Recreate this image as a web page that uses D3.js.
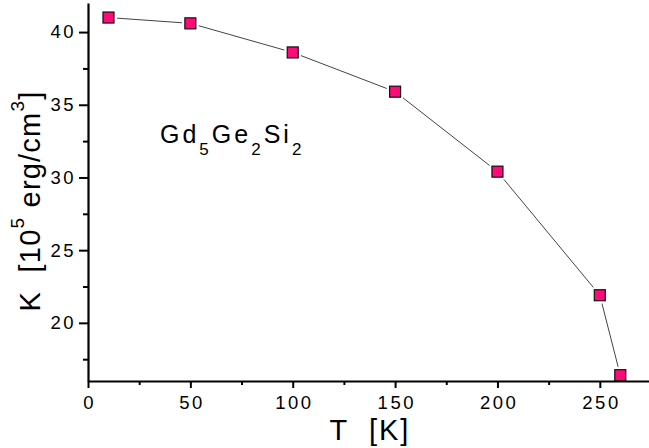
<!DOCTYPE html>
<html>
<head>
<meta charset="utf-8">
<script src="https://cdn.jsdelivr.net/npm/d3@7"></script>
<style>
  body { margin: 0; background: white; }
  svg text { font-family: "Liberation Sans", Arial, sans-serif; fill: #000; }
</style>
</head>
<body>
<script>
// data
var temps = [10, 50, 100, 150, 200, 250, 260];
var anis = [41.0, 40.6, 38.6, 35.9, 30.4, 21.9, 16.4];
var xTicks = [0, 50, 100, 150, 200, 250];
var xMinor = [25, 75, 125, 175, 225, 275];
var yTicks = [20, 25, 30, 35, 40];
var yMinor = [17.5, 22.5, 27.5, 32.5, 37.5];

var width = 649, height = 448;

var svg = d3.select("body").append("svg")
  .attr("width", width)
  .attr("height", height);

var x = d3.scaleLinear().domain([0, 275]).range([88, 651]);
var y = d3.scaleLinear().domain([16, 42]).range([381, 3]);

// axes, Origin style: thick line, outward ticks
var xAxis = svg.append("g")
  .attr("transform", "translate(0," + y(16) + ")")
  .call(d3.axisBottom(x).tickValues(xTicks).tickSize(7).tickPadding(8).tickSizeOuter(0));
xAxis.selectAll("text")
  .style("font-size", "18.5px")
  .style("letter-spacing", "2.5px")
  .attr("dx", 1.2);
svg.append("g")
  .attr("transform", "translate(0," + y(16) + ")")
  .call(d3.axisBottom(x).tickValues(xMinor).tickSize(4).tickFormat("").tickSizeOuter(0))
  .select(".domain").remove();

var yAxis = svg.append("g")
  .attr("transform", "translate(" + x(0) + ",0)")
  .call(d3.axisLeft(y).tickValues(yTicks).tickSize(9).tickPadding(4).tickSizeOuter(0));
yAxis.selectAll("text")
  .style("font-size", "18.5px")
  .style("letter-spacing", "2.5px")
  .attr("dx", 1);
svg.append("g")
  .attr("transform", "translate(" + x(0) + ",0)")
  .call(d3.axisLeft(y).tickValues(yMinor).tickSize(5).tickFormat("").tickSizeOuter(0))
  .select(".domain").remove();

svg.selectAll(".domain").attr("stroke", "#000").attr("stroke-width", 2.2);
svg.selectAll(".tick line").attr("stroke", "#000").attr("stroke-width", 2);

// connecting line with small gaps at markers
var pts = temps.map(function(t, i){ return [x(t), y(anis[i])]; });
var half = 5.5, gap = 3;
var segs = [];
for (var i = 0; i < pts.length - 1; i++) {
  var a = pts[i], b = pts[i + 1];
  var dx = b[0] - a[0], dy = b[1] - a[1];
  var len = Math.sqrt(dx * dx + dy * dy);
  // distance from centre to square edge along the segment
  var ca = half / Math.max(Math.abs(dx) / len, Math.abs(dy) / len) + gap;
  segs.push([a[0] + dx / len * ca, a[1] + dy / len * ca, b[0] - dx / len * ca, b[1] - dy / len * ca]);
}
svg.append("g").selectAll("line")
  .data(segs)
  .enter().append("line")
  .attr("x1", function(d){ return d[0]; })
  .attr("y1", function(d){ return d[1]; })
  .attr("x2", function(d){ return d[2]; })
  .attr("y2", function(d){ return d[3]; })
  .attr("stroke", "#444")
  .attr("stroke-width", 1);

svg.append("g").selectAll("rect")
  .data(temps)
  .enter().append("rect")
  .attr("x", function(d){ return x(d) - half; })
  .attr("y", function(d, i){ return y(anis[i]) - half; })
  .attr("width", half * 2)
  .attr("height", half * 2)
  .attr("fill", "#ff0a78")
  .attr("stroke", "#111")
  .attr("stroke-width", 1.2);

// axis titles
svg.append("text")
  .attr("x", 370)
  .attr("y", 440)
  .attr("text-anchor", "middle")
  .style("font-size", "29px")
  .style("letter-spacing", "2px")
  .attr("xml:space", "preserve")
  .text("T  [K]");

var yl = svg.append("text")
  .attr("transform", "translate(40,201) rotate(-90)")
  .attr("text-anchor", "middle")
  .attr("xml:space", "preserve")
  .style("letter-spacing", "1.2px")
  .style("font-size", "29px");
yl.append("tspan").text("K  [10");
yl.append("tspan").attr("dy", -16).style("font-size", "19px").text("5");
yl.append("tspan").attr("dy", 16).text(" erg/cm");
yl.append("tspan").attr("dy", -16).style("font-size", "19px").text("3");
yl.append("tspan").attr("dy", 16).text("]");

// compound label
var lab = svg.append("text")
  .attr("x", 160)
  .attr("y", 143)
  .style("letter-spacing", "3px")
  .style("font-size", "25px");
lab.append("tspan").text("Gd");
lab.append("tspan").attr("dy", 12).style("font-size", "17px").text("5");
lab.append("tspan").attr("dy", -12).text("Ge");
lab.append("tspan").attr("dy", 12).style("font-size", "17px").text("2");
lab.append("tspan").attr("dy", -12).text("Si");
lab.append("tspan").attr("dy", 12).style("font-size", "17px").text("2");
</script>
</body>
</html>
